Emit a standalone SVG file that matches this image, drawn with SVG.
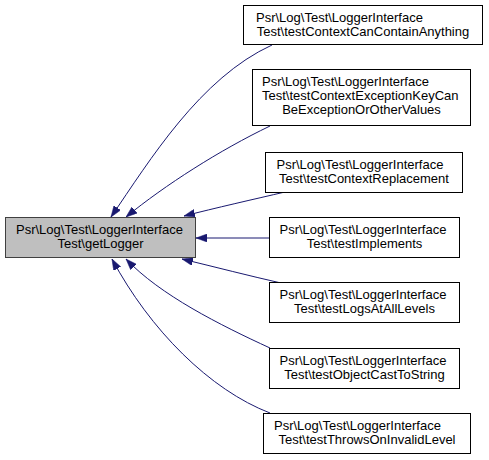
<svg xmlns="http://www.w3.org/2000/svg" width="489" height="460" viewBox="0 0 489 460">
<style>
  .node rect { fill: #ffffff; stroke: #000000; stroke-width: 1; }
  #main rect { fill: #bfbfbf; stroke: #404040; }
  text { font-family: "Liberation Sans", Arial, Helvetica, sans-serif; font-size: 13px; fill: #000000; }
  .m { text-anchor: middle; }
  .edge { fill: none; stroke: #191970; stroke-width: 1; marker-end: url(#arrow); }
</style>
<defs>
  <marker id="arrow" markerUnits="userSpaceOnUse" viewBox="0 0 11 8" refX="11" refY="4" markerWidth="11" markerHeight="8" orient="auto">
    <path d="M0,0 L11,4 L0,8 z" fill="#191970" stroke="#191970" stroke-width="0.5"/>
  </marker>
</defs>
<rect width="489" height="460" fill="#ffffff"/>
<g id="edges">
  <path class="edge" d="M272,45 C200,78 150,160 111,217"/>
  <path class="edge" d="M270,126 C220,150 165,185 126,217"/>
  <path class="edge" d="M285,192 C255,199 215,208 184,216"/>
  <path class="edge" d="M269,238 L196,238"/>
  <path class="edge" d="M281,283 C250,276 215,267 182,259"/>
  <path class="edge" d="M270,348 C220,325 160,295 126,259"/>
  <path class="edge" d="M270,413 C210,390 150,330 112,259"/>
</g>
<g id="main" class="node">
  <rect x="5.5" y="217.5" width="190" height="40"/>
  <text x="16" y="234">Psr\Log\Test\LoggerInterface</text>
  <text class="m" x="100.5" y="248">Test\getLogger</text>
</g>
<g id="n1" class="node">
  <rect x="243.5" y="5.5" width="239" height="39"/>
  <text x="256" y="22">Psr\Log\Test\LoggerInterface</text>
  <text class="m" x="363" y="36">Test\testContextCanContainAnything</text>
</g>
<g id="n2" class="node">
  <rect x="252.5" y="69.5" width="218" height="56"/>
  <text x="262" y="86">Psr\Log\Test\LoggerInterface</text>
  <text x="262" y="100">Test\testContextExceptionKeyCan</text>
  <text class="m" x="361.5" y="114">BeExceptionOrOtherValues</text>
</g>
<g id="n3" class="node">
  <rect x="265.5" y="152.5" width="197" height="40"/>
  <text x="276.5" y="169">Psr\Log\Test\LoggerInterface</text>
  <text class="m" x="364" y="183">Test\testContextReplacement</text>
</g>
<g id="n4" class="node">
  <rect x="269.5" y="217.5" width="190" height="40"/>
  <text x="279.5" y="234">Psr\Log\Test\LoggerInterface</text>
  <text class="m" x="364.5" y="248">Test\testImplements</text>
</g>
<g id="n5" class="node">
  <rect x="269.5" y="282.5" width="190" height="40"/>
  <text x="279.5" y="299">Psr\Log\Test\LoggerInterface</text>
  <text class="m" x="364.5" y="313">Test\testLogsAtAllLevels</text>
</g>
<g id="n6" class="node">
  <rect x="269.5" y="348.5" width="190" height="40"/>
  <text x="279.5" y="365">Psr\Log\Test\LoggerInterface</text>
  <text class="m" x="364.5" y="379">Test\testObjectCastToString</text>
</g>
<g id="n7" class="node">
  <rect x="263.5" y="413.5" width="207" height="40"/>
  <text x="274" y="430">Psr\Log\Test\LoggerInterface</text>
  <text class="m" x="367" y="444">Test\testThrowsOnInvalidLevel</text>
</g>
</svg>
